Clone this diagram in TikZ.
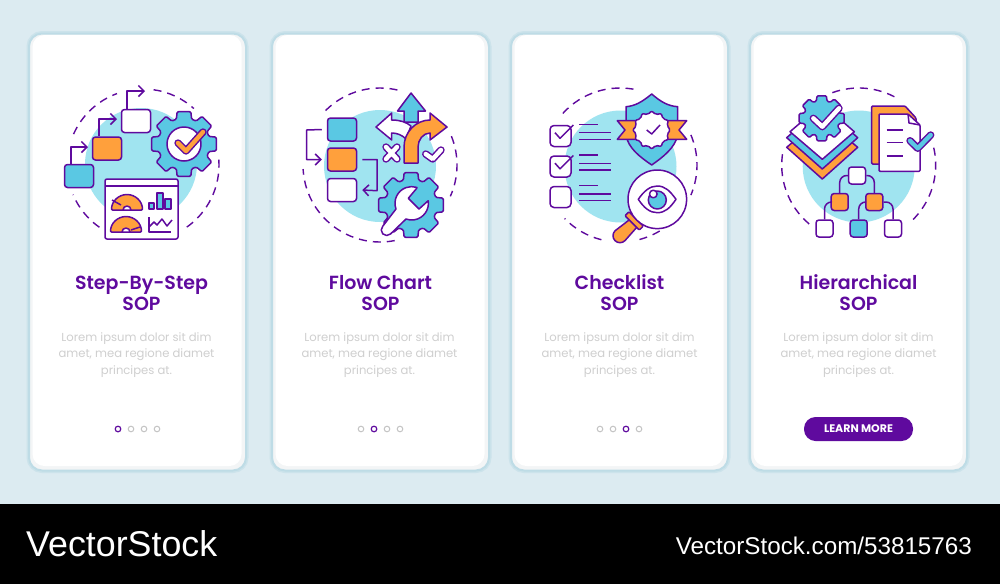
\documentclass[tikz,border=0pt]{standalone}
\usepackage{fontspec}
\setmainfont{Poppins}
\newfontfamily\titlefont{Poppins}[UprightFont=* SemiBold]
\newfontfamily\stockfont{Liberation Sans}
\usetikzlibrary{arrows.meta}
\definecolor{ink}{HTML}{5F0A9E}
\definecolor{skyfill}{HTML}{5AC8E3}
\definecolor{orangefill}{HTML}{FFA03C}
\definecolor{blobfill}{HTML}{A0E4F0}
\definecolor{pagefill}{HTML}{DCEBF1}
\definecolor{cardedge}{HTML}{BEDCE6}
\definecolor{cardshade}{HTML}{F3F5F6}
\definecolor{dotgray}{HTML}{C4C4C4}
\definecolor{loremgray}{HTML}{CFCFCF}
\tikzset{
    card/.style={rectangle,rounded corners=13pt,fill=cardshade,draw=cardedge,line width=2pt,preaction={draw=cardedge!55!pagefill,line width=5pt},minimum width=217pt,minimum height=437pt,inner sep=0pt},
    cardface/.style={rectangle,rounded corners=12pt,fill=white,minimum width=209pt,minimum height=431pt,inner sep=0pt},
    title/.style={text=ink,font=\titlefont\fontsize{19}{21}\selectfont,align=center},
    lorem/.style={text=loremgray,font=\fontsize{11.6}{16.5}\selectfont,align=center},
    ink line/.style={draw=ink,line width=1.5pt,line join=round},
    ring/.style={draw=ink,line width=1.4pt,dash pattern=on 8pt off 6pt},
    blob/.style={fill=blobfill},
    flowbox/.style={rectangle,rounded corners=3pt,draw=ink,line width=1.5pt,inner sep=0pt,minimum width=29pt,minimum height=23pt},
    treebox/.style={flowbox,minimum width=17pt,minimum height=17pt},
    tickbox/.style={flowbox,minimum width=21pt,minimum height=21pt,rounded corners=4pt},
    flow/.style={ink line,-{Straight Barb[length=5.5pt,width=11pt]}},
    dot/.style={circle,draw=dotgray,line width=1pt,minimum size=5.6pt,inner sep=0pt},
    dot on/.style={dot,draw=ink,line width=1.2pt}
}
\newcommand{\gearat}[6]{%
    \begin{scope}[shift={(#1,#2)}]
    \draw[ink line,fill=#5,rounded corners=1.2pt] ({#6-17}:#4)
        \foreach \k in {0,45,...,315} {
            -- ({\k+#6-17}:#4) -- ({\k+#6-12}:#3) -- ({\k+#6+12}:#3) -- ({\k+#6+17}:#4)
        } -- cycle;
    \end{scope}}
\newcommand{\thickmark}[2]{%
    \draw[draw=ink,line width=7.4pt,line cap=round,line join=round] #2;
    \draw[draw=#1,line width=4.4pt,line cap=round,line join=round] #2;}
\begin{document}
\begin{tikzpicture}[x=1pt,y=-1pt]
    \useasboundingbox (0,0) rectangle (1000,584);
    \fill[pagefill] (0,0) rectangle (1000,504);
    \fill[black] (0,504) rectangle (1000,584);

    \node[card] (card1) at (137.5,252) {};
    \node[card] (card2) at (380.5,252) {};
    \node[card] (card3) at (619.5,252) {};
    \node[card] (card4) at (858.5,252) {};
    \foreach \x [count=\i] in {137,380,619,858} \node[cardface] (face\i) at (\x,250.5) {};

    \node[title] (title1) at (141.5,293) {Step-By-Step\\SOP};
    \node[title] (title2) at (380.5,293) {Flow Chart\\SOP};
    \node[title] (title3) at (619.5,293) {Checklist\\SOP};
    \node[title] (title4) at (858.5,293) {Hierarchical\\SOP};

    \node[lorem] (lorem1) at (136.5,355) {Lorem ipsum dolor sit dim\\amet, mea regione diamet\\principes at.};
    \node[lorem] (lorem2) at (379.5,355) {Lorem ipsum dolor sit dim\\amet, mea regione diamet\\principes at.};
    \node[lorem] (lorem3) at (619.5,355) {Lorem ipsum dolor sit dim\\amet, mea regione diamet\\principes at.};
    \node[lorem] (lorem4) at (858.5,355) {Lorem ipsum dolor sit dim\\amet, mea regione diamet\\principes at.};

    \foreach \x/\s [count=\i] in {118/dot on,131/dot,144/dot,157/dot} \node[\s] (dotA\i) at (\x,429) {};
    \foreach \x/\s [count=\i] in {361/dot,374/dot on,387/dot,400/dot} \node[\s] (dotB\i) at (\x,429) {};
    \foreach \x/\s [count=\i] in {600/dot,613/dot,626/dot on,639/dot} \node[\s] (dotC\i) at (\x,429) {};

    \node[rectangle,rounded corners=11.5pt,fill=ink,text=white,minimum width=109pt,minimum height=24pt,inner sep=0pt,font=\fontsize{11}{12}\selectfont\bfseries] (learn) at (858.5,429) {LEARN MORE};

    \node[anchor=base west,text=white,inner sep=0pt,font=\stockfont\fontsize{35.8}{36}\selectfont] (stockname) at (26,556) {VectorStock};
    \node[anchor=base east,text=white,inner sep=0pt,font=\stockfont\fontsize{24.2}{25}\selectfont] (stockurl) at (972,554) {VectorStock.com/53815763};

    % first icon
    \fill[blob] (141,164) circle (56);
    \begin{scope}[shift={(143,165)}]
    \foreach \a/\b in {204/250,278/312,-4/56,125/157} \draw[ring] (\a:76) arc (\a:\b:76);
    \end{scope}
    \node[flowbox,fill=skyfill] (stepA) at (79,176) {};
    \node[flowbox,fill=orangefill] (stepB) at (107,148.5) {};
    \node[flowbox,fill=white] (stepC) at (136,121) {};
    \coordinate (tipA) at (88,147);
    \coordinate (tipB) at (117,119);
    \coordinate (tipC) at (145,91);
    \draw[flow] ([xshift=-8pt]stepA.north) |- (tipA);
    \draw[flow] ([xshift=-8pt]stepB.north) |- (tipB);
    \draw[flow] ([xshift=-9pt]stepC.north) |- (tipC);
    \gearat{184}{144}{33}{26}{skyfill}{-90}
    \draw[ink line,fill=white] (184,144) circle (17);
    \thickmark{orangefill}{(178,143) -- (186,151) -- (203,132)}
    \draw[ink line,fill=white,rounded corners=2pt] (105,179) rectangle (178,239);
    \draw[ink line] (105,186) -- (178,186);
    \draw[ink line,fill=orangefill,rounded corners=1pt] (111.5,210) arc (180:360:15.5) -- cycle;
    \draw[ink line,fill=white] (123,210) arc (180:360:4) -- cycle;
    \draw[ink line] (121,205) -- (112,200);
    \draw[ink line,fill=orangefill,rounded corners=1pt] (110.5,232) arc (180:360:15.5) -- cycle;
    \draw[ink line,fill=white] (122,232) arc (180:360:4) -- cycle;
    \draw[ink line] (131,230) -- (140,227);
    \draw[ink line,fill=skyfill] (149,203) rectangle (154,209);
    \draw[ink line,fill=skyfill] (157,193) rectangle (163,209);
    \draw[ink line,fill=skyfill] (165,199) rectangle (171,209);
    \draw[ink line] (149,217) -- (149,232) -- (171,232);
    \draw[ink line] (149,227) -- (154,222) -- (157,225) -- (162,219) -- (167,226) -- (172,220);

    % second icon
    \fill[blob] (380,166) circle (56);
    \begin{scope}[shift={(380,165)}]
    \foreach \a/\b in {225/285,-22/24,79/177} \draw[ring] (\a:77) arc (\a:\b:77);
    \end{scope}
    \node[flowbox,fill=skyfill] (rowA) at (342,129.5) {};
    \node[flowbox,fill=orangefill] (rowB) at (342,159.5) {};
    \node[flowbox,fill=white] (rowC) at (342,190) {};
    \coordinate (loopA) at (306.7,130);
    \coordinate (loopB) at (377,190.7);
    \draw[flow] ([xshift=-5pt]rowA.west) -- (loopA) |- ([xshift=-5pt]rowB.west);
    \draw[flow] ([xshift=5pt]rowB.east) -| (loopB) -- ([xshift=5pt]rowC.east);
    \draw[ink line,fill=skyfill] (411,93) -- (425.5,111) -- (418,111) -- (418,122) -- (404,122) -- (404,111) -- (397.5,111) -- cycle;
    \draw[ink line,fill=white] (376,127) -- (391.7,113) -- (391.7,120) .. controls (400,120) and (406,122) .. (411,126) -- (406,139) .. controls (402,135) and (397,133) .. (391.7,133) -- (391.7,140) -- cycle;
    \draw[ink line,fill=orangefill] (404,163) -- (404,147) .. controls (404,132) and (416,120) .. (430,120) -- (430,113) -- (447,127) -- (430,140) -- (430,133) .. controls (423,133) and (418,140) .. (418,147) -- (418,163) -- cycle;
    \thickmark{white}{(386,147) -- (397,159) (397,147) -- (386,159)}
    \thickmark{white}{(425.7,154) -- (432.7,159) -- (441,150)}
    \gearat{411}{205}{33}{26}{skyfill}{-90}
    \draw[ink line,fill=white] (416.7,188.3) -- (408.3,198.3) -- (419,209) -- (428.2,200.7) arc (-9:110:16.7) -- (390.6,233.9) arc (45:225:5.5) -- (396,209) arc (160:288:16.7) -- cycle;

    % third icon
    \fill[blob] (620.5,166.5) circle (56);
    \begin{scope}[shift={(620,165)}]
    \foreach \a/\b in {222/283,-23/23,59/79,104/136} \draw[ring] (\a:77) arc (\a:\b:77);
    \end{scope}
    \node[tickbox,fill=white] (boxA) at (560.5,136) {};
    \node[tickbox,fill=white] (boxB) at (560.5,166.5) {};
    \node[tickbox,fill=white] (boxC) at (560.5,197) {};
    \draw[ink line] (555,132.7) -- (560,138.3) -- (573.3,125);
    \draw[ink line] (555,163.2) -- (560,168.8) -- (573.3,155.5);
    \foreach \y/\w in {124.3/597.7,132.7/610.7,139.3/610.7,155/597.7,163.7/610.7,170/610.7,185.7/597.7,194/610.7,200.7/610.7}
        \draw[ink line] (579.3,\y) -- (\w,\y);
    \draw[ink line,fill=skyfill] (651.7,94) .. controls (642,102) and (635,106) .. (626,106.7) -- (626,135) .. controls (628,148) and (640,157) .. (651.7,165) .. controls (663,157) and (675,148) .. (677.7,135) -- (677.7,106.7) .. controls (668,106) and (661,102) .. cycle;
    \draw[ink line,fill=orangefill] (617.3,120.7) -- (638,120.7) -- (638,139.3) -- (617.3,139.3) -- (625,130) -- cycle;
    \draw[ink line,fill=orangefill] (686.7,120.7) -- (665,120.7) -- (665,139.3) -- (686.7,139.3) -- (679,130) -- cycle;
    \begin{scope}[shift={(651.7,130)}]
    \draw[ink line,fill=white,rounded corners=2pt] (0:19)
        \foreach \k in {15,30,...,345} {
            -- (\k:{17.5+1.8*cos(12*\k)})
        } -- cycle;
    \end{scope}
    \draw[ink line] (646.7,130) -- (651.7,134) -- (660,125);
    \draw[ink line,fill=orangefill] (630,219.3) -- (637.3,226.7) -- (624.95,240.65) arc (45:225:7) -- cycle;
    \draw[ink line,fill=orangefill,rounded corners=1pt] (625,215.7) -- (629,211.7) -- (643.3,226) -- (639.3,230) -- cycle;
    \draw[ink line,fill=white] (657.3,199.3) circle (29.3);
    \draw[ink line] (638.3,199.3) .. controls (644,191) and (650,186) .. (657.3,186) .. controls (665,186) and (670,191) .. (676,199.3) .. controls (670,208) and (665,212.7) .. (657.3,212.7) .. controls (650,212.7) and (644,208) .. cycle;
    \draw[ink line,fill=skyfill] (657.3,200) circle (9);
    \draw[ink line,fill=white] (653.3,194) circle (3.8);

    % fourth icon
    \fill[blob] (858.7,166.5) circle (56);
    \begin{scope}[shift={(858.7,165)}]
    \foreach \a/\b in {250/300,-13/47,130/191} \draw[ring] (\a:77) arc (\a:\b:77);
    \end{scope}
    \draw[ink line,fill=orangefill] (786.7,147.3) -- (822.3,179) -- (857.7,147.3) -- (851,141.7) -- (822.3,168.3) -- (793.3,141.7) -- cycle;
    \draw[ink line,fill=skyfill] (786.7,137.7) -- (822.3,169) -- (857.7,137.7) -- (822.3,106) -- cycle;
    \draw[ink line,fill=white] (790,131.7) -- (822.3,159.3) -- (854.3,131.7) -- (822.3,104) -- cycle;
    \gearat{821.7}{118.3}{23}{18}{skyfill}{-90}
    \thickmark{white}{(813.3,118.3) -- (822.3,126.7) -- (839,108.3)}
    \draw[ink line,fill=orangefill,rounded corners=1pt] (871.7,106) -- (905,106) -- (916,118) -- (916,164) -- (871.7,164) -- cycle;
    \draw[ink line,fill=white,rounded corners=1pt] (879,114) -- (908,114) -- (920,125) -- (920,171.3) -- (879,171.3) -- cycle;
    \draw[ink line] (908,114) -- (909,123) -- (920,125);
    \foreach \y in {130,142.7,156} \draw[ink line] (886.7,\y) -- (903.3,\y);
    \thickmark{skyfill}{(910,140.7) -- (917.7,148.3) -- (930.7,135)}
    \node[treebox,fill=white] (topnode) at (857,175.5) {};
    \node[treebox,fill=orangefill] (midL) at (839.7,202) {};
    \node[treebox,fill=orangefill] (midR) at (874.3,202) {};
    \node[treebox,fill=white] (lowL) at (824.5,228.5) {};
    \node[treebox,fill=skyfill] (lowM) at (858.7,228.5) {};
    \node[treebox,fill=white] (lowR) at (893,228.5) {};
    \draw[ink line,rounded corners=7pt] (topnode.west) -| (midL.north);
    \draw[ink line,rounded corners=7pt] (topnode.east) -| (midR.north);
    \draw[ink line,rounded corners=7pt] (midL.west) -| (lowL.north);
    \draw[ink line,rounded corners=7pt] (midR.west) -| (lowM.north);
    \draw[ink line,rounded corners=7pt] (midR.east) -| (lowR.north);
\end{tikzpicture}
\end{document}
